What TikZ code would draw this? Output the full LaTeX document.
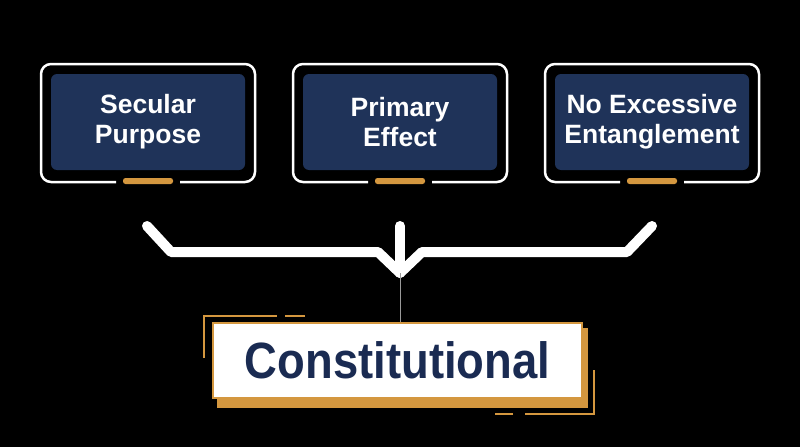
\documentclass[tikz,border=0pt]{standalone}
\usepackage{fontspec}
\setmainfont{Liberation Sans}
\definecolor{navyfill}{HTML}{1F3359}
\definecolor{navytext}{HTML}{1A2B52}
\definecolor{ochre}{HTML}{D4973F}
\definecolor{stemgray}{HTML}{9A9A9A}
\begin{document}
\begin{tikzpicture}[x=1pt,y=-1pt,
  frame/.style={draw=white,line width=2.5pt,rounded corners=10pt},
  panel/.style={fill=navyfill,rounded corners=6pt},
  tab/.style={fill=ochre,rounded corners=2.5pt},
  paneltext/.style={text=white,font=\bfseries\fontsize{26.5}{30}\selectfont,align=center,inner sep=0pt},
  bracket/.style={draw=white,line width=10pt,line cap=round,line join=round},
  stem/.style={draw=stemgray,line width=1pt},
  result/.style={fill=white,draw=ochre,line width=2.5pt,minimum width=369pt,minimum height=75pt,inner sep=0pt,
    text=navytext,font=\bfseries\fontsize{51}{55}\selectfont},
  deco/.style={draw=ochre,line width=2pt}]
\fill[black] (0,0) rectangle (800,447);
\useasboundingbox (0,0) rectangle (800,447);
% three panels
\foreach \cx/\nm/\txt in {148/b1/{Secular\\Purpose},400/b2/{Primary\\Effect},652/b3/{No Excessive\\Entanglement}}{
  \draw[frame] (\cx-32,182) -- (\cx-107,182) -- (\cx-107,64) -- (\cx+107,64) -- (\cx+107,182) -- (\cx+32,182);
  \fill[panel] (\cx-97,74) rectangle (\cx+97,170);
  \fill[tab] (\cx-25,178) rectangle (\cx+25,184);
  \node[paneltext] (\nm) at (\cx,122) {\txt};
}
% bracket
\coordinate (bl) at (147,226);
\coordinate (br) at (652,226);
\coordinate (btop) at (400,226);
\coordinate (tip) at (400,273);
\draw[bracket] (bl) -- (171,252) -- (378,252) -- (tip) -- (422,252) -- (627,252) -- (br);
\draw[bracket] (btop) -- (tip);
% result
\fill[ochre] (217,328) rectangle (588,408);
\draw[deco] (204,358) -- (204,316) -- (277,316);
\draw[deco] (285,316) -- (305,316);
\draw[deco] (594,370) -- (594,414) -- (525,414);
\draw[deco] (513,414) -- (495,414);
\node[result] (c) at (397.5,360.5) {\raisebox{-2pt}{\scalebox{0.89}[1]{Constitutional}}};
\draw[stem] (tip) -- (tip |- c.north);
\end{tikzpicture}
\end{document}
